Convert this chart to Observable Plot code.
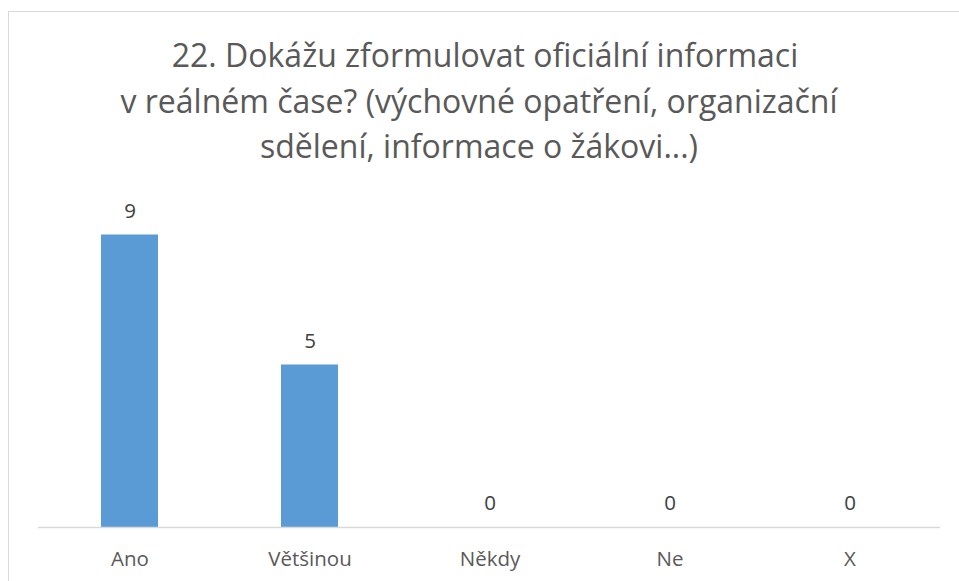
<!DOCTYPE html>
<html>
<head>
<meta charset="utf-8">
<script src="https://cdn.jsdelivr.net/npm/d3@7"></script>
<script src="https://cdn.jsdelivr.net/npm/@observablehq/plot@0.6"></script>
<style>
  html, body { margin: 0; padding: 0; background: #fff; width: 959px; height: 581px; overflow: hidden; }
  #frame { position: absolute; left: 8px; top: 11px; width: 980px; height: 600px; border: 1.5px solid #d9d9d9; box-sizing: border-box; }
  #title { position: absolute; left: 0; top: 32px; width: 958px; text-align: center; font-family: "Open Sans", sans-serif; font-size: 32px; line-height: 45.5px; color: #595959; }
  #title .l1 { position: relative; left: 6px; }
  #chart { position: absolute; left: 0; top: 190px; }
</style>
</head>
<body>
<div id="frame"></div>
<div id="title"><span class="l1">22. Dokážu zformulovat oficiální informaci</span><br>v reálném čase? (výchovné opatření, organizační<br>sdělení, informace o žákovi...)</div>
<div id="chart"></div>
<script>
const categories = ["Ano", "Většinou", "Někdy", "Ne", "X"];
const values = [9, 5, 0, 0, 0];

const data = categories.map((c, i) => ({category: c, value: values[i]}));

const chart = Plot.plot({
  width: 959,
  height: 391,
  marginLeft: 38,
  marginRight: 19,
  marginTop: 12,
  marginBottom: 54,
  style: {fontFamily: "'Open Sans', sans-serif", background: "transparent"},
  x: {domain: categories, paddingInner: 0.684, paddingOuter: 0.342, label: null},
  y: {domain: [0, 10], axis: null},
  marks: [
    Plot.barY(data, {x: "category", y: "value", fill: "#5B9BD5"}),
    Plot.ruleY([0], {stroke: "#d9d9d9", strokeWidth: 1.3}),
    Plot.text(data, {x: "category", y: "value", text: d => String(d.value), dy: -24, fontSize: 20.5, fill: "#404040"}),
    Plot.axisX({tickSize: 0, tickPadding: 24, fontSize: 20.5, color: "#595959", label: null})
  ]
});
document.getElementById("chart").appendChild(chart);
</script>
</body>
</html>
